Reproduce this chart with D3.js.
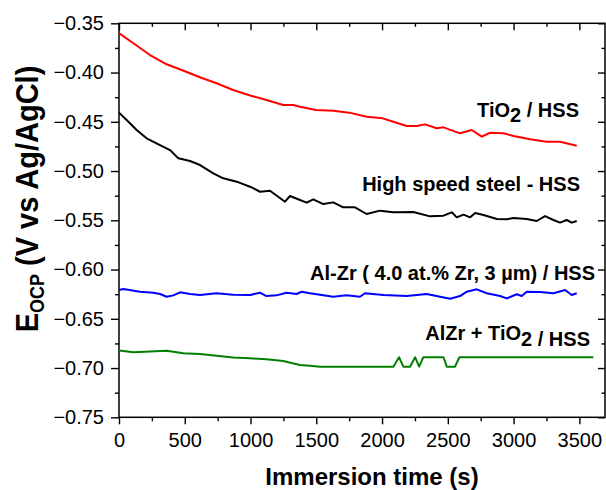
<!DOCTYPE html>
<html>
<head>
<meta charset="utf-8">
<script src="https://cdn.jsdelivr.net/npm/d3@7"></script>
<style>
  html, body { margin: 0; padding: 0; background: #fff; }
  svg { display: block; }
  text { font-family: "Liberation Sans", Arial, sans-serif; fill: #000; }
</style>
</head>
<body>
<svg id="chart" width="606" height="490"></svg>
<script>
// ---- data ----
const timeTiO2 = [0,109,236,362,496,615,742,868,1003,1121,1248,1325,1376,1497,1629,1751,1883,2005,2086,2188,2264,2327,2416,2467,2593,2682,2758,2822,2923,2999,3126,3252,3353,3480];
const ocpTiO2 = [-0.360,-0.3703,-0.3822,-0.3916,-0.3984,-0.4048,-0.4109,-0.4177,-0.4235,-0.4279,-0.4329,-0.4329,-0.4347,-0.4380,-0.4387,-0.4407,-0.4448,-0.4465,-0.4499,-0.4543,-0.4543,-0.4526,-0.4566,-0.4556,-0.4617,-0.4583,-0.4651,-0.4611,-0.4617,-0.4644,-0.4678,-0.4702,-0.4702,-0.4743];

const timeHSS = [0,58,134,210,312,388,451,540,616,717,793,895,996,1072,1148,1262,1300,1376,1427,1477,1553,1629,1705,1794,1883,1984,2086,2238,2365,2467,2530,2568,2619,2670,2708,2771,2873,2949,2999,3100,3176,3239,3303,3353,3404,3442,3480];
const ocpHSS = [-0.4407,-0.4482,-0.4583,-0.4668,-0.4736,-0.4787,-0.4871,-0.4898,-0.4939,-0.5023,-0.5074,-0.5108,-0.5159,-0.5210,-0.5200,-0.5311,-0.5253,-0.5294,-0.5321,-0.5287,-0.5335,-0.5318,-0.5368,-0.5368,-0.5436,-0.5402,-0.5419,-0.5416,-0.5460,-0.5453,-0.5419,-0.5470,-0.5443,-0.5470,-0.5426,-0.5446,-0.5487,-0.5490,-0.5477,-0.5487,-0.5507,-0.5457,-0.5497,-0.5524,-0.5497,-0.5524,-0.5507];

const timeAlZr = [0,33,160,261,312,362,413,464,540,616,742,868,996,1072,1121,1198,1274,1350,1389,1452,1528,1629,1731,1832,1870,2010,2188,2340,2441,2517,2593,2644,2720,2796,2897,2948,3024,3062,3100,3201,3303,3392,3442,3480];
const ocpAlZr = [-0.6208,-0.6198,-0.6225,-0.6235,-0.6248,-0.6276,-0.6262,-0.6231,-0.6248,-0.6258,-0.6241,-0.6255,-0.6258,-0.6235,-0.6269,-0.6262,-0.6235,-0.6248,-0.6225,-0.6241,-0.6255,-0.6276,-0.6262,-0.6276,-0.6241,-0.6258,-0.6269,-0.6248,-0.6276,-0.6296,-0.6269,-0.6225,-0.6201,-0.6241,-0.6269,-0.6293,-0.6251,-0.6269,-0.6225,-0.6228,-0.6241,-0.6208,-0.6258,-0.6241];

const timeAlZrTiO2 = [0,109,236,362,489,616,742,868,996,1121,1248,1376,1452,1528,2086,2129,2162,2213,2251,2282,2314,2467,2492,2555,2588,3606];
const ocpAlZrTiO2 = [-0.6822,-0.6840,-0.6833,-0.6824,-0.6850,-0.6857,-0.6874,-0.6894,-0.6901,-0.6911,-0.6928,-0.6969,-0.6976,-0.6986,-0.6986,-0.6890,-0.6986,-0.6986,-0.6890,-0.6986,-0.6890,-0.6890,-0.6986,-0.6986,-0.6890,-0.6890];

const xTicks = [0,500,1000,1500,2000,2500,3000,3500];
const xMinorTicks = [250,750,1250,1750,2250,2750,3250];
const yTicks = [-0.75,-0.70,-0.65,-0.60,-0.55,-0.50,-0.45,-0.40,-0.35];
const yMinorTicks = [-0.725,-0.675,-0.625,-0.575,-0.525,-0.475,-0.425,-0.375];

const seriesColors = ["#ff0000", "#000000", "#0000ff", "#008000"];

// ---- layout ----
const L = 119, R = 605, T = 23.3, B = 417.3;
const svg = d3.select("#chart");
const x = d3.scaleLinear().domain([0, 3695]).range([L, R]);
const y = d3.scaleLinear().domain([-0.75, -0.35]).range([B, T]);

function styleAxis(g) {
  g.select(".domain").remove();
  g.selectAll(".tick line").attr("stroke", "#000").attr("stroke-width", 1.4);
  g.selectAll("text").style("font-size", "20px").attr("fill", "#000");
}

// bottom axis
svg.append("g").attr("transform", `translate(0,${B})`)
  .call(d3.axisBottom(x).tickValues(xTicks).tickSize(7).tickSizeOuter(0).tickPadding(8.5).tickFormat(d3.format("d")))
  .call(styleAxis);
svg.append("g").attr("transform", `translate(0,${B})`)
  .call(d3.axisBottom(x).tickValues(xMinorTicks).tickSize(4).tickSizeOuter(0).tickFormat(""))
  .call(styleAxis);
// top axis (inward)
svg.append("g").attr("transform", `translate(0,${T})`)
  .call(d3.axisTop(x).tickValues(xTicks).tickSize(-7).tickSizeOuter(0).tickFormat(""))
  .call(styleAxis);
svg.append("g").attr("transform", `translate(0,${T})`)
  .call(d3.axisTop(x).tickValues(xMinorTicks).tickSize(-3.5).tickSizeOuter(0).tickFormat(""))
  .call(styleAxis);
// left axis
svg.append("g").attr("transform", `translate(${L},0)`)
  .call(d3.axisLeft(y).tickValues(yTicks).tickSize(8).tickSizeOuter(0).tickPadding(7).tickFormat(d3.format(".2f")))
  .call(styleAxis);
svg.append("g").attr("transform", `translate(${L},0)`)
  .call(d3.axisLeft(y).tickValues(yMinorTicks).tickSize(4).tickSizeOuter(0).tickFormat(""))
  .call(styleAxis);
// right axis (inward)
svg.append("g").attr("transform", `translate(${R},0)`)
  .call(d3.axisRight(y).tickValues(yTicks).tickSize(-7).tickSizeOuter(0).tickFormat(""))
  .call(styleAxis);
svg.append("g").attr("transform", `translate(${R},0)`)
  .call(d3.axisRight(y).tickValues(yMinorTicks).tickSize(-3.5).tickSizeOuter(0).tickFormat(""))
  .call(styleAxis);

// frame
svg.append("rect").attr("x", L).attr("y", T).attr("width", R - L).attr("height", B - T)
  .attr("fill", "none").attr("stroke", "#000").attr("stroke-width", 1.5);

// lines
const line = d3.line().x(d => x(d[0])).y(d => y(d[1]));
const series = [
  [timeTiO2, ocpTiO2],
  [timeHSS, ocpHSS],
  [timeAlZr, ocpAlZr],
  [timeAlZrTiO2, ocpAlZrTiO2]
];
series.forEach((s, i) => {
  const pts = s[0].map((t, k) => [t, s[1][k]]);
  svg.append("path").datum(pts).attr("d", line)
    .attr("fill", "none").attr("stroke", seriesColors[i]).attr("stroke-width", 2)
    .attr("stroke-linejoin", "round");
});

// annotations
const ann = svg.append("g").style("font-size", "20px").style("font-weight", "bold");
const t1 = ann.append("text").attr("x", 579).attr("y", 117).attr("text-anchor", "end");
t1.append("tspan").text("TiO");
t1.append("tspan").attr("dy", 5).text("2");
t1.append("tspan").attr("dy", -5).text(" / HSS");

ann.append("text").attr("x", 580).attr("y", 191).attr("text-anchor", "end").text("High speed steel - HSS");
ann.append("text").attr("x", 595).attr("y", 280).attr("text-anchor", "end").text("Al-Zr ( 4.0 at.% Zr, 3 µm) / HSS");

const t4 = ann.append("text").attr("x", 590).attr("y", 340).attr("text-anchor", "end");
t4.append("tspan").text("AlZr + TiO");
t4.append("tspan").attr("dy", 6).text("2 / HSS");

// axis titles
svg.append("text").attr("x", 372).attr("y", 485).attr("text-anchor", "middle")
  .style("font-size", "24px").style("font-weight", "bold").text("Immersion time (s)");

const yl = svg.append("text").attr("text-anchor", "middle")
  .attr("transform", "translate(38,199) rotate(-90) scale(1,1.1)")
  .style("font-size", "29px").style("font-weight", "bold");
yl.append("tspan").text("E");
yl.append("tspan").attr("dy", 5).style("font-size", "18px").text("OCP");
yl.append("tspan").attr("dy", -5).text(" (V vs Ag/AgCl)");
</script>
</body>
</html>
